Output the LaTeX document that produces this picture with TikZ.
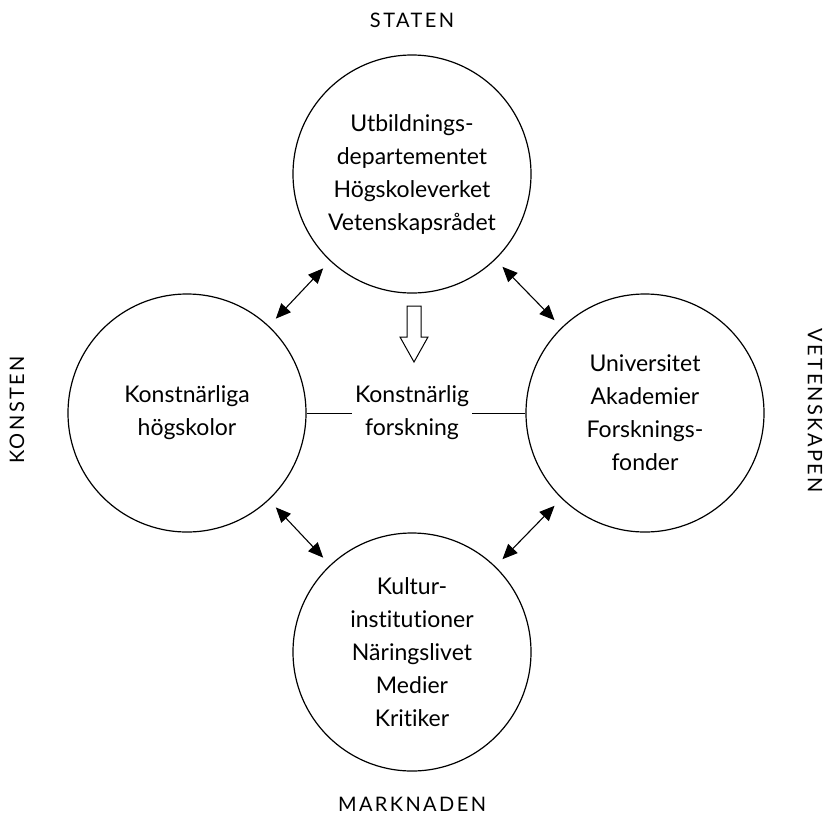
\documentclass[tikz,border=0pt]{standalone}
\usepackage{fontspec}
\setmainfont[Ligatures={NoCommon}]{Lato}
\newfontfamily\spaced[LetterSpace=12]{Lato}
\usetikzlibrary{arrows.meta}
\begin{document}
\begin{tikzpicture}[x=1pt,y=-1pt,
  every node/.style={font=\fontsize{23}{33}\selectfont},
  ring/.style={circle,draw,line width=1.2pt,minimum size=238pt,inner sep=0pt,align=center},
  axislabel/.style={font=\spaced\fontsize{20}{24}\selectfont},
  dbl/.style={{Triangle[length=15pt,width=13pt]}-{Triangle[length=15pt,width=13pt]},line width=1.1pt,shorten <=10pt,shorten >=10pt},
  link/.style={line width=0.9pt},
  hollow/.style={draw,line width=1pt,fill=white}]
\useasboundingbox (0,0) rectangle (836,823);
\node[ring] (top) at (412,174) {Utbildnings-\\departementet\\Högskoleverket\\Vetenskapsrådet};
\node[ring] (left) at (187,413) {Konstnärliga\\högskolor};
\node[ring] (right) at (645,413) {Universitet\\Akademier\\Forsknings-\\fonder};
\node[ring] (bottom) at (412,652) {Kultur-\\institutioner\\Näringslivet\\Medier\\Kritiker};
\node[align=center,inner sep=3pt] (kf) at (412,413) {Konstnärlig\\forskning};
\draw[link] (left) -- (kf);
\draw[link] (kf) -- (right);
\draw[dbl] (top) -- (left);
\draw[dbl] (top) -- (right);
\draw[dbl] (left) -- (bottom);
\draw[dbl] (right) -- (bottom);
\draw[hollow] (407,306) -- (421,306) -- (421,337) -- (428,337) -- (414,362) -- (400,337) -- (407,337) -- cycle;
\node[axislabel] (staten) at (412,20) {STATEN};
\node[axislabel] (marknaden) at (412,804) {MARKNADEN};
\node[axislabel,rotate=90] (konsten) at (17,410) {KONSTEN};
\node[axislabel,rotate=-90] (vetenskapen) at (815,411) {VETENSKAPEN};
\end{tikzpicture}
\end{document}
